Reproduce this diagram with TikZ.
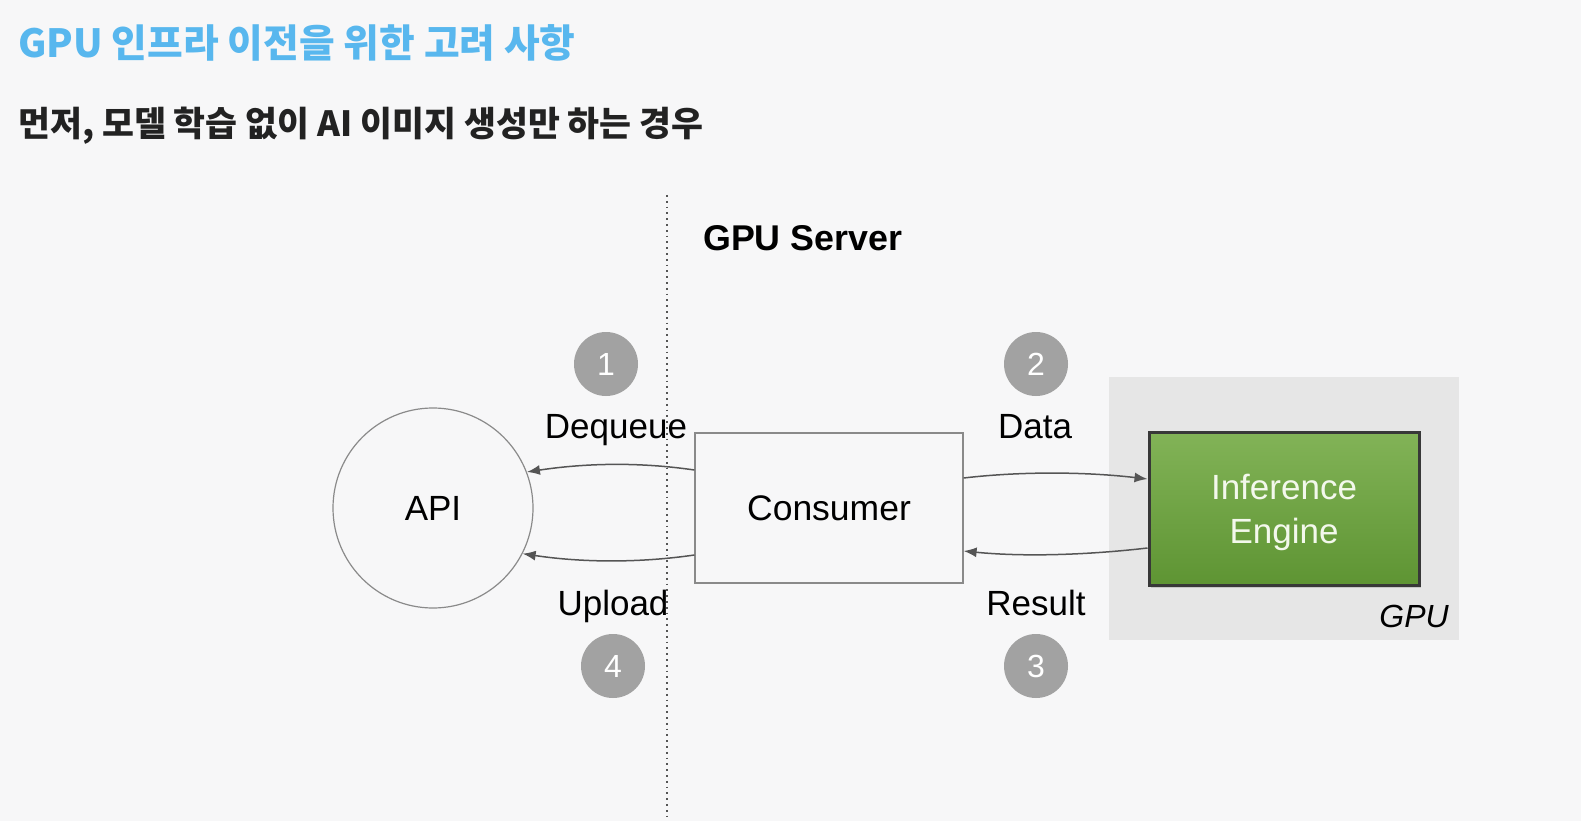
\documentclass[tikz,border=0pt]{standalone}
\usepackage{fontspec}
\setmainfont{Liberation Sans}
\newfontfamily\kr{Noto Sans CJK KR}
\usetikzlibrary{arrows.meta,calc,shadows}
\definecolor{bg}{HTML}{F7F7F8}
\definecolor{titleblue}{HTML}{58B7EE}
\definecolor{subblack}{HTML}{222222}
\definecolor{linegray}{HTML}{8A8A8A}
\definecolor{arrgray}{HTML}{555555}
\definecolor{numgray}{HTML}{A2A2A2}
\definecolor{gpubg}{HTML}{E6E6E6}
\definecolor{greentop}{HTML}{82B357}
\definecolor{greenbot}{HTML}{5E9433}
\definecolor{ietext}{HTML}{F3F8EC}
\tikzset{
  lbl/.style={inner sep=0, text=black, font=\fontsize{35}{40}\selectfont},
  numc/.style={circle, fill=numgray, minimum size=64, inner sep=0, text=white, font=\fontsize{32}{36}\selectfont},
  arr/.style={draw=arrgray, line width=1.5, -{Latex[length=13,width=10]}},
  boxline/.style={draw=linegray, line width=1.2}
}
\begin{document}
\begin{tikzpicture}[x=1pt,y=1pt]
\useasboundingbox (0,0) rectangle (1581,-821);
\fill[bg] (0,0) rectangle (1581,-821);
% titles
\node[anchor=base west, inner sep=0, text=titleblue, font=\kr\bfseries\fontsize{38.8}{42}\selectfont] (title) at (18,-58) {GPU 인프라 이전을 위한 고려 사항};
\node[anchor=base west, inner sep=0, text=subblack, font=\kr\bfseries\fontsize{34.7}{40}\selectfont] (subtitle) at (18,-137) {먼저, 모델 학습 없이 AI 이미지 생성만 하는 경우};
% divider
\coordinate (ds) at (667,-195);
\coordinate (de) at (667,-821);
\draw[draw=arrgray, line width=1.4, dash pattern=on 1.8 off 4] (ds) -- (de);
\node[anchor=base west, inner sep=0, font=\bfseries\fontsize{35.8}{40}\selectfont] (server) at (703,-250) {GPU Server};
% GPU area
\node[fill=gpubg, minimum width=350, minimum height=263, inner sep=0] (gpu) at (1284,-508.5) {};
\node[anchor=base east, inner sep=0, font=\itshape\fontsize{32}{38}\selectfont] (gpulbl) at (1449,-627) {GPU};
% main nodes
\node[circle, boxline, minimum size=200, inner sep=0, font=\fontsize{35}{40}\selectfont] (api) at (433,-508) {API};
\node[rectangle, boxline, minimum width=268, minimum height=150, inner sep=0, font=\fontsize{35.5}{40}\selectfont] (cons) at (829,-508) {Consumer};
\node[rectangle, draw=black!78, line width=3, top color=greentop, bottom color=greenbot, minimum width=270, minimum height=153, inner sep=0, align=center, text=ietext, font=\fontsize{35}{44}\selectfont, drop shadow={shadow xshift=1.5, shadow yshift=-2, opacity=0.3}] (ie) at (1284,-509) {};
\node[align=center, inner sep=0, text=ietext, font=\fontsize{35}{44}\selectfont] (ietxt) at (1284,-512) {Inference\\Engine};
% number circles
\node[numc] (n1) at (606,-364) {1};
\node[numc] (n2) at (1036,-364) {2};
\node[numc] (n3) at (1036,-666) {3};
\node[numc] (n4) at (613,-666) {4};
% labels
\node[lbl, anchor=base] (ldeq) at (616,-438) {Dequeue};
\node[lbl, anchor=base] (ldata) at (1035,-438) {Data};
\node[lbl, anchor=base] (lup) at (613,-615) {Upload};
\node[lbl, anchor=base] (lres) at (1036,-615) {Result};
% arrows
\draw[arr] ($(cons.west)+(0,38)$) .. controls +(-55,8) and +(60,9) .. (api.21);
\draw[arr] ($(cons.west)+(0,-47)$) .. controls +(-55,-8) and +(60,-9) .. (api.-27);
\draw[arr] ($(cons.east)+(0,30)$) .. controls +(60,7) and +(-60,7) .. ($(ie.west)+(0,30)$);
\draw[arr] ($(ie.west)+(0,-39)$) .. controls +(-60,-7) and +(60,-6) .. ($(cons.east)+(0,-43)$);
\end{tikzpicture}
\end{document}
